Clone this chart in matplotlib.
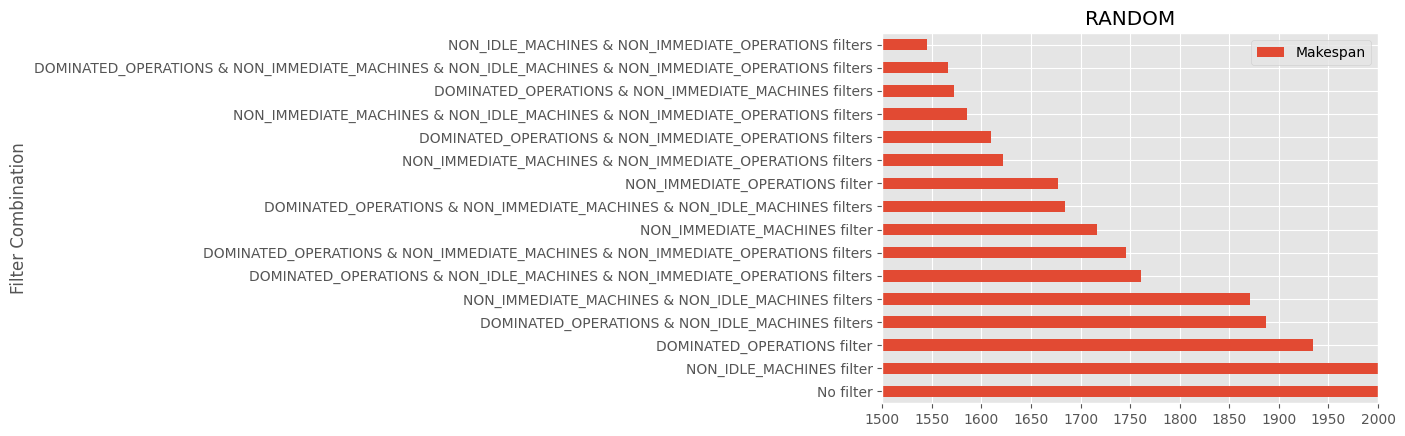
import numpy as np
import pandas as pd
import matplotlib
matplotlib.use("Agg")
import matplotlib.pyplot as plt

plt.style.use("ggplot")

# filter combinations, bottom bar first
combinations = [
    "No filter",
    "NON_IDLE_MACHINES filter",
    "DOMINATED_OPERATIONS filter",
    "DOMINATED_OPERATIONS & NON_IDLE_MACHINES filters",
    "NON_IMMEDIATE_MACHINES & NON_IDLE_MACHINES filters",
    "DOMINATED_OPERATIONS & NON_IDLE_MACHINES & NON_IMMEDIATE_OPERATIONS filters",
    "DOMINATED_OPERATIONS & NON_IMMEDIATE_MACHINES & NON_IMMEDIATE_OPERATIONS filters",
    "NON_IMMEDIATE_MACHINES filter",
    "DOMINATED_OPERATIONS & NON_IMMEDIATE_MACHINES & NON_IDLE_MACHINES filters",
    "NON_IMMEDIATE_OPERATIONS filter",
    "NON_IMMEDIATE_MACHINES & NON_IMMEDIATE_OPERATIONS filters",
    "DOMINATED_OPERATIONS & NON_IMMEDIATE_OPERATIONS filters",
    "NON_IMMEDIATE_MACHINES & NON_IDLE_MACHINES & NON_IMMEDIATE_OPERATIONS filters",
    "DOMINATED_OPERATIONS & NON_IMMEDIATE_MACHINES filters",
    "DOMINATED_OPERATIONS & NON_IMMEDIATE_MACHINES & NON_IDLE_MACHINES & NON_IMMEDIATE_OPERATIONS filters",
    "NON_IDLE_MACHINES & NON_IMMEDIATE_OPERATIONS filters",
]
makespan = [2100, 2080, 1934.5, 1886.5, 1871, 1761, 1746, 1717, 1684, 1677,
            1621.5, 1610, 1585, 1572, 1566, 1545.5]

df = pd.DataFrame({"Filter Combination": combinations, "Makespan": makespan})
df = df.set_index("Filter Combination")

fig, ax = plt.subplots(figsize=(14.05, 4.36), dpi=100)
df.plot(kind="barh", ax=ax)
ax.set_xlim(1500, 2000)
ax.set_xticks(np.arange(1500, 2001, 50))
ax.set_title("RANDOM")
ax.legend(loc="upper right")
fig.subplots_adjust(left=0.628, right=0.9808, top=0.9243, bottom=0.0757)
fig.savefig("out.png", dpi=100)
